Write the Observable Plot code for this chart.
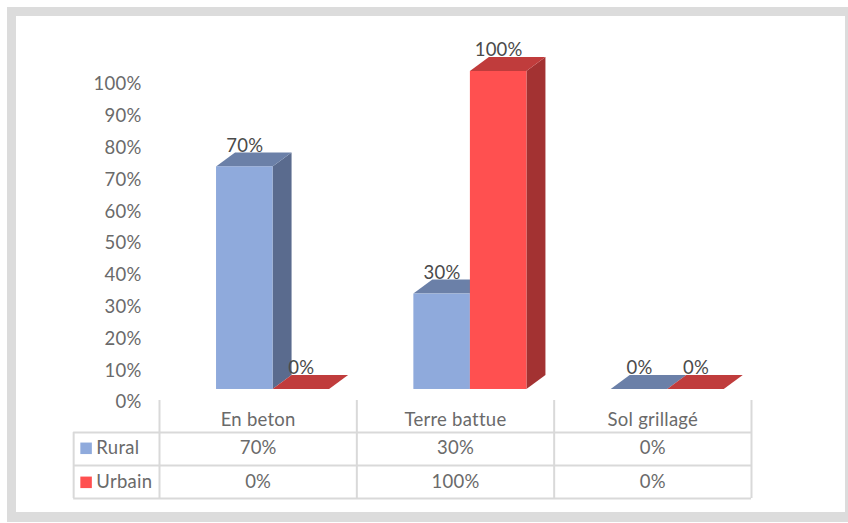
<!DOCTYPE html>
<html>
<head>
<meta charset="utf-8">
<script src="https://cdn.jsdelivr.net/npm/d3@7"></script>
<script src="https://cdn.jsdelivr.net/npm/@observablehq/plot@0.6"></script>
<style>
  html, body { margin: 0; background: #fff; }
  #chart { position: relative; width: 848px; height: 523px; overflow: hidden; }
  #border { position: absolute; left: 7px; top: 7px; width: 829px; height: 496px; border: solid #dcdcdc; border-width: 9px 4px 10px 9px; box-sizing: content-box; }
  #plot { position: absolute; left: 0; top: 0; }
  #plot svg { background: transparent; }
  #plot svg text { letter-spacing: 0.25px; }
</style>
</head>
<body>
<div id="chart"><div id="border"></div><div id="plot"></div></div>
<script>
// Survey shares per floor type and area
const categories = ["En beton", "Terre battue", "Sol grillagé"];
const rural = [70, 30, 0];
const urbain = [0, 100, 0];
const tickValues = [0, 10, 20, 30, 40, 50, 60, 70, 80, 90, 100];

// Colours of each series: front, top and side faces of the extruded bars
const ruralColors = {front: "#8faadc", top: "#6b80a8", side: "#5a6b8e", swatch: "#8faadc"};
const urbainColors = {front: "#ff5050", top: "#c03c3c", side: "#a33232", swatch: "#ff5050"};

// Bar layout in category units (x) and percent units (y)
const barStart = 0.289;
const barWidth = 0.2865;
const depthX = 0.0963;
const depthY = 4.4;

// Table rows sit below the zero line, measured in percent units
const tableLines = [-3.46, -13.55, -23.9, -34.3];
const headerRow = -9.6;
const ruralRow = -18.5;
const urbainRow = -29.2;
const tableLeft = -0.435;

const pct = d => d + "%";

function barMarks(values, slot, colors) {
  const bars = values.map((v, i) => {
    const x1 = i + barStart + slot * barWidth;
    return {i, v, x1, x2: x1 + barWidth};
  });
  const side = bars.flatMap(b => [
    {i: b.i, x: b.x2, y1: 0, y2: b.v},
    {i: b.i, x: b.x2 + depthX, y1: depthY, y2: b.v + depthY}
  ]);
  const top = bars.flatMap(b => [
    {i: b.i, y: b.v, x1: b.x1, x2: b.x2},
    {i: b.i, y: b.v + depthY, x1: b.x1 + depthX, x2: b.x2 + depthX}
  ]);
  return [
    Plot.areaY(side.filter(d => d.y2 > d.y1 && d.y2 > depthY), {x: "x", y1: "y1", y2: "y2", z: "i", fill: colors.side}),
    Plot.areaX(top, {y: "y", x1: "x1", x2: "x2", z: "i", fill: colors.top}),
    Plot.rect(bars.filter(b => b.v > 0), {x1: "x1", x2: "x2", y1: 0, y2: "v", fill: colors.front})
  ];
}

function valueLabels(values, slot) {
  return Plot.text(values.map((v, i) => ({v, x: i + barStart + (slot + 0.5) * barWidth})), {
    x: "x", y: "v", text: d => pct(d.v), dy: -21, fill: "#4a4a4a"
  });
}

function tableRow(values, y) {
  return Plot.text(values.map((v, i) => ({v, x: i + 0.5})), {x: "x", y: () => y, text: d => pct(d.v)});
}

const plot = Plot.plot({
  width: 848,
  height: 523,
  marginLeft: 159,
  marginRight: 97,
  marginTop: 0,
  marginBottom: 0,
  style: {fontFamily: "Lato", fontSize: "18.5px", color: "#6a6a6a", background: "transparent"},
  x: {domain: [0, 3], range: [159, 751], axis: null},
  y: {domain: [-34.6, 100], range: [499, 71]},
  marks: [
    Plot.axisY({ticks: tickValues, tickFormat: pct, tickSize: 0, tickPadding: 18, dy: 13, label: null}),

    // Data table grid
    Plot.ruleY(tableLines.slice(1), {x1: tableLeft, x2: 3, stroke: "#d9d9d9", strokeWidth: 2}),
    Plot.ruleX([0, 1, 2, 3], {y1: tableLines[3], y2: tableLines[0], stroke: "#d9d9d9", strokeWidth: 2}),
    Plot.ruleX([tableLeft], {y1: tableLines[3], y2: tableLines[1], stroke: "#d9d9d9", strokeWidth: 2}),

    // Extruded bars, back series first so the nearer faces cover it
    ...barMarks(rural, 0, ruralColors),
    ...barMarks(urbain, 1, urbainColors),
    valueLabels(rural, 0),
    valueLabels(urbain, 1),

    // Table content
    Plot.text(categories, {x: (d, i) => i + 0.5, y: () => headerRow, text: d => d}),
    tableRow(rural, ruralRow),
    tableRow(urbain, urbainRow),
    Plot.dot([{n: "Rural", y: ruralRow, c: ruralColors.swatch}, {n: "Urbain", y: urbainRow, c: urbainColors.swatch}], {
      x: () => -0.372, y: "y", symbol: "square", r: 6.5, fill: "c"
    }),
    Plot.text([{n: "Rural", y: ruralRow}, {n: "Urbain", y: urbainRow}], {
      x: () => -0.32, y: "y", text: "n", textAnchor: "start"
    })
  ]
});
document.getElementById("plot").appendChild(plot);
</script>
</body>
</html>
